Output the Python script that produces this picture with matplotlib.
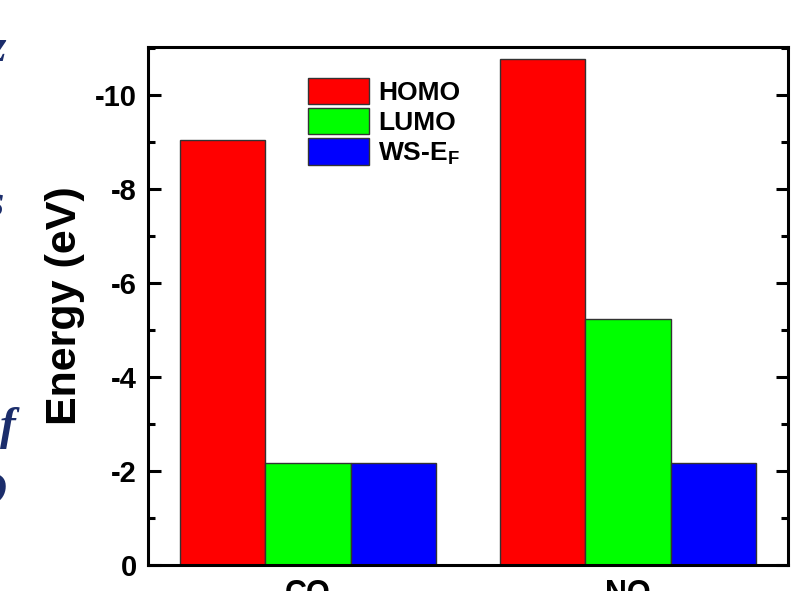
import numpy as np
import matplotlib
matplotlib.use("Agg")
import matplotlib.pyplot as plt
from matplotlib.ticker import MultipleLocator

# data
molecules = ["CO", "NO"]
series = ["HOMO", "LUMO", "WS-E$_F$"]
homo = [-9.05, -10.77]
lumo = [-2.17, -5.23]
ws_ef = [-2.17, -2.17]
colors = ["#ff0000", "#00ff00", "#0000ff"]

plt.rcParams["font.family"] = "Liberation Sans"
plt.rcParams["font.weight"] = "bold"
plt.rcParams["mathtext.fontset"] = "custom"
plt.rcParams["mathtext.bf"] = "Liberation Sans:bold"
plt.rcParams["mathtext.rm"] = "Liberation Sans:bold"
plt.rcParams["mathtext.default"] = "bf"

fig = plt.figure(figsize=(7.91, 5.91), dpi=100)
ax = fig.add_axes([148 / 791, 1 - 565 / 591, 640 / 791, 518 / 591])

x = np.arange(1, len(molecules) + 1)
w = 0.266
for i, (vals, lab) in enumerate(zip([homo, lumo, ws_ef], series)):
    ax.bar(x + (i - 1) * w, vals, width=w, color=colors[i], label=lab,
           edgecolor="#333333", linewidth=1.0)

ax.set_xlim(0.5, 2.5)
ax.set_ylim(0, -11.02)
ax.set_xticks(x)
ax.set_xticklabels(molecules, fontsize=22, fontweight="bold")
ax.yaxis.set_minor_locator(MultipleLocator(1))
ax.set_yticks([0, -2, -4, -6, -8, -10])
ax.set_yticklabels(["0", "-2", "-4", "-6", "-8", "-10"], fontsize=21, fontweight="bold")
ax.tick_params(axis="y", which="both", direction="in", left=True, right=True,
               width=2.2, pad=8)
ax.tick_params(axis="y", which="major", length=9)
ax.tick_params(axis="y", which="minor", length=5)
ax.tick_params(axis="x", length=0, pad=10)
for s in ax.spines.values():
    s.set_linewidth(2.2)

ax.set_ylabel("Energy (eV)", fontsize=31, fontweight="bold", labelpad=7)

ax.legend(loc="upper left", bbox_to_anchor=(308 / 791, 1 - 78 / 591),
          bbox_transform=fig.transFigure, frameon=False, fontsize=19,
          handlelength=2.3, handleheight=1.15, handletextpad=0.35,
          labelspacing=0.12, borderpad=0, borderaxespad=0)

# fragments of page text cut off at the left edge
navy = "#1b2d6b"
for ch, yy, xx, fs in [("z", 50, 6, 34), ("s", 205, 4, 34),
                       ("f", 428, 16, 34), ("o", 488, 8, 46)]:
    fig.text(xx / 791, 1 - yy / 591, ch, ha="right", va="center",
             fontsize=fs, family="Liberation Serif", style="italic",
             fontweight="bold", color=navy)

fig.savefig("out.png", dpi=100)
